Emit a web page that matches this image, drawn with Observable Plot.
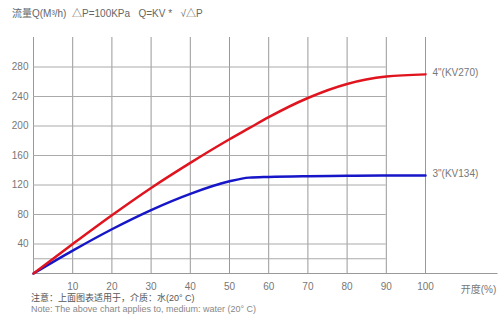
<!DOCTYPE html>
<html>
<head>
<meta charset="utf-8">
<script src="https://cdn.jsdelivr.net/npm/d3@7"></script>
<script src="https://cdn.jsdelivr.net/npm/@observablehq/plot@0.6"></script>
<style>
  html, body { margin: 0; padding: 0; background: #fff; }
  #wrap { position: relative; width: 500px; height: 330px; font-family: "Liberation Sans", "Noto Sans CJK SC", sans-serif; }
  .t { position: absolute; white-space: pre; color: #666; }
  #title { left: 12px; top: 5px; font-size: 10px; }
  #note1 { left: 31px; top: 291px; font-size: 9px; color: #555; }
  #note2 { left: 31px; top: 304px; font-size: 9px; color: #888; }
</style>
</head>
<body>
<div id="wrap">
  <div id="chart"></div>
  <div class="t" id="title"></div>
  <div class="t" id="note1"></div>
  <div class="t" id="note2"></div>
</div>
<script>
const opening = [0, 10, 20, 30, 40, 50, 55, 60, 70, 80, 90, 100];
const kv270 = [0, 40, 79, 116, 150, 182, 197, 212, 238, 257, 267, 270];
const kv134 = [0, 31, 60, 86, 108, 125, 130, 131, 132, 132.5, 133, 133];
const seriesNames = ['4"(KV270)', '3"(KV134)'];
const xTicks = [10, 20, 30, 40, 50, 60, 70, 80, 90, 100];
const yTicks = [40, 80, 120, 160, 200, 240, 280];
const vGrid = [0, 10, 20, 30, 40, 50, 60, 70, 80, 90, 100];
const hGrid = [20, 40, 80, 120, 160, 200, 240, 280];
const titleText = "流量Q(M³/h)  △P=100KPa   Q=KV *   √△P";
const noteCn = "注意：上面图表适用于，介质：水(20° C)";
const noteEn = "Note: The above chart applies to, medium: water (20° C)";
const xLabel = "开度(%)";

document.getElementById("title").textContent = titleText;
document.getElementById("note1").textContent = noteCn;
document.getElementById("note2").textContent = noteEn;

const red = opening.map((x, i) => ({x, y: kv270[i]}));
const blue = opening.map((x, i) => ({x, y: kv134[i]}));
const ends = [
  {x: 100, y: kv270[kv270.length - 1], name: seriesNames[0]},
  {x: 100, y: kv134[kv134.length - 1], name: seriesNames[1]}
];

const chart = Plot.plot({
  width: 500,
  height: 330,
  marginLeft: 33,
  marginRight: 75,
  marginTop: 37,
  marginBottom: 57,
  style: {fontFamily: '"Liberation Sans", "Noto Sans CJK SC", sans-serif', fontSize: "10px", color: "#666", background: "#fff"},
  x: {domain: [0, 100], axis: null},
  y: {domain: [0, 320], axis: null},
  marks: [
    Plot.ruleX(vGrid, {x: d => d, y1: 0, y2: 320, stroke: "#999", strokeWidth: 1}),
    Plot.ruleY(hGrid, {y: d => d, x1: 0, x2: 90, stroke: "#aaa", strokeWidth: 1}),
    Plot.ruleY([0], {x1: 0, x2: 118.5, stroke: "#999", strokeWidth: 1}),
    Plot.axisX(xTicks, {tickSize: 0, tickPadding: 9, fill: "#777", fontSize: 10, label: null}),
    Plot.axisY(yTicks, {tickSize: 0, tickPadding: 5, fill: "#777", fontSize: 10, label: null}),
    Plot.text([xLabel], {x: 109, y: 0, dy: 16, dx: 0, textAnchor: "start", fill: "#777", fontSize: 10}),
    Plot.line(blue, {x: "x", y: "y", stroke: "#1616c8", strokeWidth: 2.5, curve: "monotone-x"}),
    Plot.line(red, {x: "x", y: "y", stroke: "#e0141e", strokeWidth: 2.5, curve: "monotone-x"}),
    Plot.text(ends, {x: "x", y: "y", text: "name", dx: 7, dy: -2, textAnchor: "start", fill: "#777", fontSize: 10})
  ]
});
document.getElementById("chart").appendChild(chart);
</script>
</body>
</html>
